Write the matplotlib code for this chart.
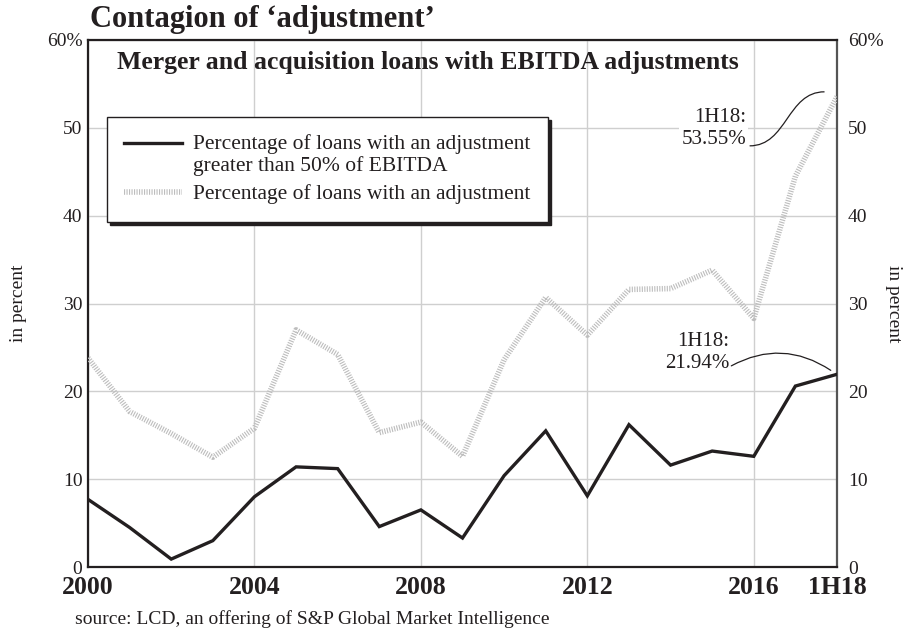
import matplotlib
matplotlib.use("Agg")
import numpy as np
import matplotlib.pyplot as plt
from matplotlib.path import Path
from matplotlib.patches import PathPatch
from matplotlib.legend_handler import HandlerLine2D

plt.rcParams['font.family'] = ['Liberation Serif', 'DejaVu Serif']

# Data
years = [2000, 2001, 2002, 2003, 2004, 2005, 2006, 2007, 2008, 2009,
         2010, 2011, 2012, 2013, 2014, 2015, 2016, 2017, 2018]
over_50 = [7.7, 4.5, 0.9, 3.0, 8.0, 11.4, 11.2, 4.6, 6.5, 3.3,
           10.4, 15.5, 8.1, 16.2, 11.6, 13.2, 12.6, 20.6, 21.94]
any_adj = [23.8, 17.7, 15.2, 12.5, 15.8, 27.0, 24.2, 15.3, 16.5, 12.6,
           23.6, 30.7, 26.4, 31.6, 31.7, 33.8, 28.3, 44.5, 53.55]

xtick_pos = [2000, 2004, 2008, 2012, 2016, 2018]
xtick_labels = ['2000', '2004', '2008', '2012', '2016', '1H18']
ytick_pos = [0, 10, 20, 30, 40, 50, 60]
ytick_labels = ['0', '10', '20', '30', '40', '50', '60%']

label_over = 'Percentage of loans with an adjustment\ngreater than 50% of EBITDA'
label_any = 'Percentage of loans with an adjustment'

DARK = '#231f20'
GREY_LINE = '#bdbdbd'
GRID = '#cfcfcf'


class FirstLineHandler(HandlerLine2D):
    """Line handle aligned with the first line of a multi-line label."""

    def __init__(self, lift=0.0, **kw):
        super().__init__(**kw)
        self.lift = lift

    def create_artists(self, legend, orig_handle, xdescent, ydescent,
                       width, height, fontsize, trans):
        artists = super().create_artists(legend, orig_handle, xdescent,
                                         ydescent, width, height, fontsize,
                                         trans)
        for a in artists:
            y = np.asarray(a.get_ydata(), dtype=float)
            a.set_ydata(y + self.lift)
        return artists


fig = plt.figure(figsize=(9.1, 6.3), dpi=100)
ax = fig.add_axes([88 / 910, 1 - 567 / 630, (837 - 88) / 910, (567 - 40) / 630])

ax.set_xlim(2000, 2018)
ax.set_ylim(0, 60)

ax.grid(True, color=GRID, linewidth=1.0)
ax.set_axisbelow(True)

l_any, = ax.plot(years, any_adj, color=GREY_LINE, linewidth=4.0,
                 dashes=(0.2, 0.25), dash_capstyle='butt',
                 solid_joinstyle='miter', label=label_any, zorder=3)
l_over, = ax.plot(years, over_50, color=DARK, linewidth=2.4,
                  solid_joinstyle='miter', label=label_over, zorder=4)

ax.set_xticks(xtick_pos)
ax.set_xticklabels(xtick_labels, fontsize=18.5, fontweight='bold', color=DARK)
ax.set_yticks(ytick_pos)
ax.set_yticklabels(ytick_labels, fontsize=14, color=DARK)
ax.tick_params(axis='both', length=0)
ax.tick_params(axis='x', pad=6.5)
ax.tick_params(axis='y', pad=4)

for side in ['left', 'bottom', 'top']:
    ax.spines[side].set_color(DARK)
    ax.spines[side].set_linewidth(1.6)
ax.spines['right'].set_color('#555555')
ax.spines['right'].set_linewidth(1.6)

ax2 = ax.twinx()
ax2.set_ylim(0, 60)
ax2.set_yticks(ytick_pos)
ax2.set_yticklabels(ytick_labels, fontsize=14, color=DARK)
ax2.tick_params(axis='y', length=0, pad=8)
for s in ax2.spines.values():
    s.set_visible(False)

ax.set_ylabel('in percent', fontsize=14, color=DARK, labelpad=14)
ax2.set_ylabel('in percent', fontsize=14, color=DARK, rotation=270, labelpad=13)

# Legend with a solid drop shadow
leg = ax.legend(handles=[l_over, l_any], loc='upper left',
                bbox_to_anchor=(107 / 910, 1 - 117 / 630),
                bbox_transform=fig.transFigure, fontsize=15.5,
                frameon=True, fancybox=False, borderaxespad=0,
                shadow={'color': DARK, 'alpha': 1.0, 'ox': 2.5, 'oy': -2.5},
                handlelength=2.7, handletextpad=0.5, borderpad=0.8,
                labelspacing=0.41,
                handler_map={l_over: FirstLineHandler(lift=8.3)})
leg.get_frame().set_edgecolor(DARK)
leg.get_frame().set_linewidth(1.0)
leg.get_frame().set_alpha(1.0)
for t in leg.get_texts():
    t.set_color(DARK)
    t.set_linespacing(1.1)

# Subtitle inside the plot area
ax.text(0.0387, 0.958, 'Merger and acquisition loans with EBITDA adjustments',
        transform=ax.transAxes, ha='left', va='center', fontsize=18.5,
        fontweight='bold', color=DARK, zorder=6)

# Title
fig.text(90 / 910, 1 - 20 / 630, 'Contagion of \u2018adjustment\u2019',
         ha='left', va='center', fontsize=22, fontweight='bold', color=DARK)

# Source line
fig.text(75 / 910, 1 - 619 / 630,
         'source: LCD, an offering of S&P Global Market Intelligence',
         ha='left', va='center', fontsize=14, color=DARK)


def s_curve(ax, start, end, color=DARK):
    (x0, y0), (x3, y3) = start, end
    dx = (x3 - x0) * 0.5
    verts = [(x0, y0), (x0 + dx, y0), (x3 - dx, y3), (x3, y3)]
    codes = [Path.MOVETO, Path.CURVE4, Path.CURVE4, Path.CURVE4]
    ax.add_patch(PathPatch(Path(verts, codes), fill=False, edgecolor=color,
                           linewidth=0.9, zorder=7))


# Callout for the latest share of loans with any adjustment
ax.text(2015.82, 49.95, '1H18:\n53.55%', ha='right', va='center',
        multialignment='right', fontsize=15, color=DARK, linespacing=1.25,
        zorder=7, bbox=dict(facecolor='white', edgecolor='none', pad=1.5))
s_curve(ax, (2015.9, 47.95), (years[-1] - 0.3, any_adj[-1] + 0.55))

# Callout for the latest share of loans with adjustment above 50%
ax.text(2015.41, 24.4, '1H18:\n21.94%', ha='right', va='center',
        multialignment='right', fontsize=15, color=DARK, linespacing=1.25,
        zorder=7)
ax.annotate('', xy=(years[-1] - 0.15, over_50[-1] + 0.45),
            xytext=(2015.46, 22.9),
            arrowprops=dict(arrowstyle='-', color=DARK, linewidth=0.9,
                            connectionstyle='arc3,rad=-0.3',
                            shrinkA=0, shrinkB=0), zorder=7)

fig.savefig('out.png', dpi=100)
